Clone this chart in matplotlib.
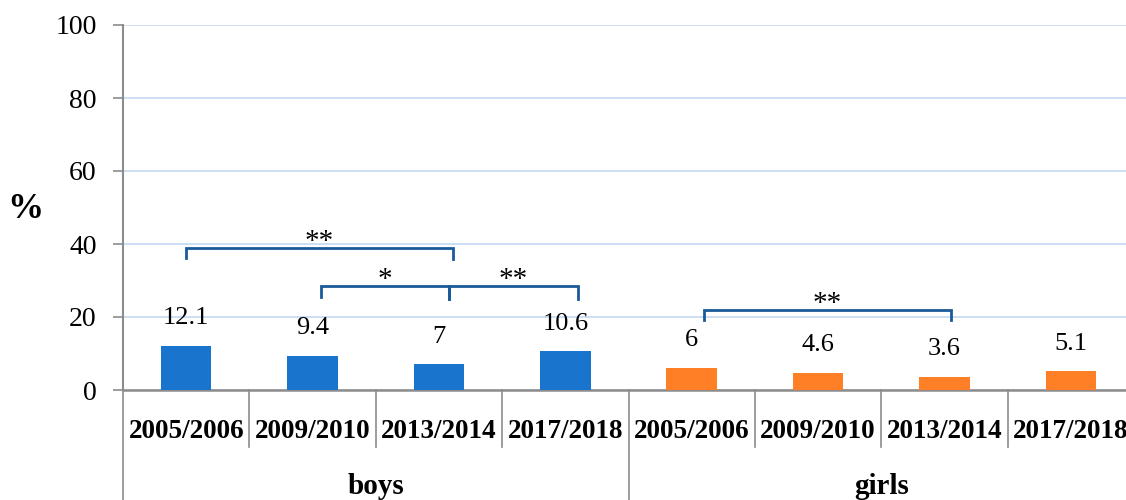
import numpy as np
import matplotlib.pyplot as plt

plt.rcParams['font.family'] = ['Liberation Serif', 'DejaVu Serif']

# data
years = ['2005/2006', '2009/2010', '2013/2014', '2017/2018']
groups = ['boys', 'girls']
boys = [12.1, 9.4, 7, 10.6]
girls = [6, 4.6, 3.6, 5.1]
value_labels = ['12.1', '9.4', '7', '10.6', '6', '4.6', '3.6', '5.1']

# significance brackets: (x_left, x_right, y_bar, y_left_end, y_right_end, stars)
brackets = [
    (0.0, 2.11, 38.9, 36.2, 35.8, '**'),
    (1.07, 2.08, 28.5, 25.5, 25.0, '*'),
    (2.08, 3.10, 28.5, 25.0, 25.0, '**'),
    (4.10, 6.05, 22.0, 19.2, 19.2, '**'),
]

blue = '#1874cd'
orange = '#ff7f27'
bracket_color = '#1b5a9a'
axis_gray = '#8c8c8c'

fig = plt.figure(figsize=(11.26, 5), dpi=100)
ax = fig.add_axes([123 / 1126, 110 / 500, 1011 / 1126, 365 / 500])

values = boys + girls
colors = [blue] * len(boys) + [orange] * len(girls)
x = np.arange(len(values))
ax.bar(x, values, width=0.4, color=colors, zorder=3)

for xi, v, lab in zip(x, values, value_labels):
    ax.annotate(lab, (xi, v), xytext=(0, 20), textcoords='offset points',
                ha='center', va='center', fontsize=19)

# brackets
for x0, x1, yb, y0, y1, stars in brackets:
    ax.plot([x0, x0, x1, x1], [y0, yb, yb, y1], color=bracket_color, lw=2,
            solid_joinstyle='miter', zorder=4)
    ax.text((x0 + x1) / 2, yb + 1.6, stars, ha='center', va='center', fontsize=21)

ax.set_xlim(-0.5, len(values) - 0.5)
ax.set_ylim(0, 100)
ax.set_yticks(np.arange(0, 101, 20))
ax.tick_params(axis='y', length=7, color=axis_gray, width=1.2, pad=12, labelsize=20)
ax.grid(axis='y', color='#c5d9f1', lw=1.2, zorder=0)
ax.set_axisbelow(True)

for s in ['top', 'right']:
    ax.spines[s].set_visible(False)
ax.spines['left'].set_color(axis_gray)
ax.spines['bottom'].set_color(axis_gray)
ax.spines['left'].set_linewidth(1.5)
ax.spines['bottom'].set_linewidth(1.8)

# category axis: labels and separators
ax.set_xticks([])
tr = ax.get_xaxis_transform()
all_years = years * len(groups)
for xi, lab in zip(x, all_years):
    ax.text(xi, -42 / 365, lab, transform=tr, ha='center', va='center',
            fontsize=19.5, fontweight='bold')
for b in np.arange(0.5, len(values) - 0.5):
    if b == len(years) - 0.5:
        continue
    ax.plot([b, b], [0, -57 / 365], transform=tr, color=axis_gray, lw=1.2, clip_on=False)
for b in [-0.5, len(years) - 0.5]:
    ax.plot([b, b], [0, -0.31], transform=tr, color=axis_gray, lw=1.2, clip_on=False)
for gi, g in enumerate(groups):
    cx = gi * len(years) + (len(years) - 1) / 2
    ax.text(cx, -97 / 365, g, transform=tr, ha='center', va='center',
            fontsize=21, fontweight='bold')

fig.text(25 / 1126, 1 - 210 / 500, '%', ha='center', va='center',
         fontsize=26, fontweight='bold')

fig.savefig('out.png', dpi=100)
